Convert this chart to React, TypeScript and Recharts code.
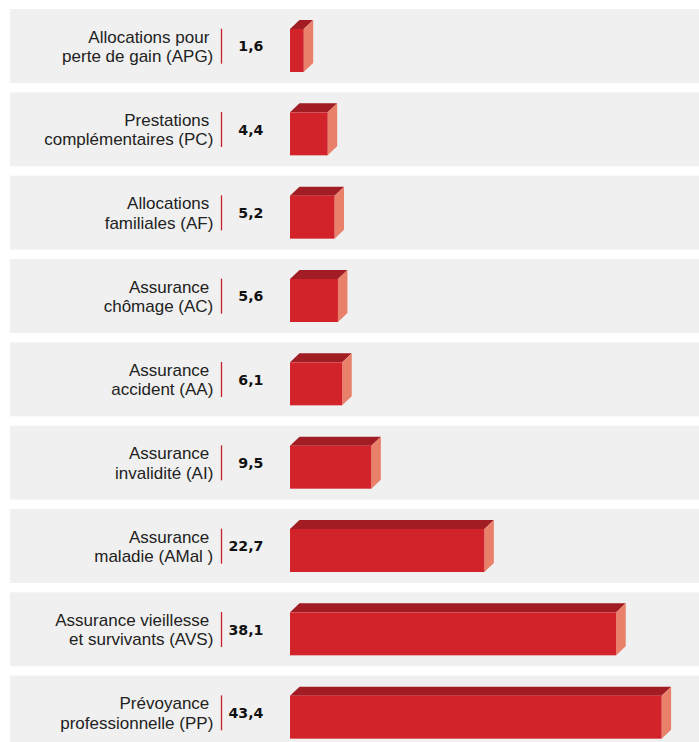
import { BarChart, Bar, XAxis, YAxis } from "recharts";

// Codes of the branches, top to bottom
const CATEGORIES = ["APG", "PC", "AF", "AC", "AA", "AI", "AMal", "AVS", "PP"];

// Two-line labels shown on the left of each row
const LABEL_LINE1 = [
  "Allocations pour",
  "Prestations",
  "Allocations",
  "Assurance",
  "Assurance",
  "Assurance",
  "Assurance",
  "Assurance vieillesse",
  "Prévoyance",
];
const LABEL_LINE2 = [
  "perte de gain (APG)",
  "complémentaires (PC)",
  "familiales (AF)",
  "chômage (AC)",
  "accident (AA)",
  "invalidité (AI)",
  "maladie (AMal )",
  "et survivants (AVS)",
  "professionnelle (PP)",
];

const VALUES = [1.6, 4.4, 5.2, 5.6, 6.1, 9.5, 22.7, 38.1, 43.4];

const X_DOMAIN = [0, 48];

const data = CATEGORIES.map((name, i) => ({ name, value: VALUES[i] }));

const fmt = (v: number) => v.toFixed(1).replace(".", ",");

const DEPTH_X = 9.5;
const DEPTH_Y = 9;

function Bar3D(props: any) {
  const { x, y, width, height } = props;
  const fy = y + DEPTH_Y;
  const fh = height - DEPTH_Y;
  const r = x + width;
  return (
    <g>
      <polygon
        points={`${x},${fy} ${x + DEPTH_X},${y} ${r + DEPTH_X},${y} ${r},${fy}`}
        fill="#A11C23"
      />
      <polygon
        points={`${r},${fy} ${r + DEPTH_X},${y} ${r + DEPTH_X},${y + fh} ${r},${y + height}`}
        fill="#E8806A"
      />
      <rect x={x} y={fy} width={width} height={fh} fill="#D2232B" />
    </g>
  );
}

// grey band behind each row
function Panel(props: any) {
  const { y, height } = props;
  const cy = y + height / 2;
  return <rect x={10} y={cy - 37} width={699} height={74} fill="#F0F0F0" />;
}

const LABEL_FONT = "'Liberation Sans', Arial, sans-serif";

function RowLabel(props: any) {
  const { y, payload } = props;
  const i = props.index ?? payload.index;
  return (
    <g>
      <text x={209.3} y={y - 3} textAnchor="end" fontFamily={LABEL_FONT} fontSize={17} fill="#222">
        {LABEL_LINE1[i]}
      </text>
      <text x={213.3} y={y + 16.3} textAnchor="end" fontFamily={LABEL_FONT} fontSize={17} fill="#222">
        {LABEL_LINE2[i]}
      </text>
      <line x1={221.5} x2={221.5} y1={y - 17} y2={y + 18} stroke="#C8202A" strokeWidth={1.3} />
      <text
        x={263.5}
        y={y + 5.8}
        textAnchor="end"
        fontFamily="'DejaVu Sans', sans-serif"
        fontWeight="bold"
        fontSize={14.2}
        fill="#111"
      >
        {fmt(VALUES[i])}
      </text>
    </g>
  );
}

export default function App() {
  return (
    <div
      style={{
        position: "absolute",
        left: 0,
        top: 0,
        width: 699,
        height: 742,
        overflow: "hidden",
        background: "#fff",
      }}
    >
      <BarChart
        width={699}
        height={754}
        data={data}
        layout="vertical"
        margin={{ top: 4, right: -2, bottom: 0, left: 0 }}
      >
        <XAxis type="number" domain={X_DOMAIN} hide />
        <Bar
          dataKey="value"
          barSize={52}
          shape={Bar3D}
          background={Panel}
          isAnimationActive={false}
        />
        <YAxis
          type="category"
          dataKey="name"
          width={290}
          axisLine={false}
          tickLine={false}
          interval={0}
          tick={<RowLabel />}
        />
      </BarChart>
    </div>
  );
}
